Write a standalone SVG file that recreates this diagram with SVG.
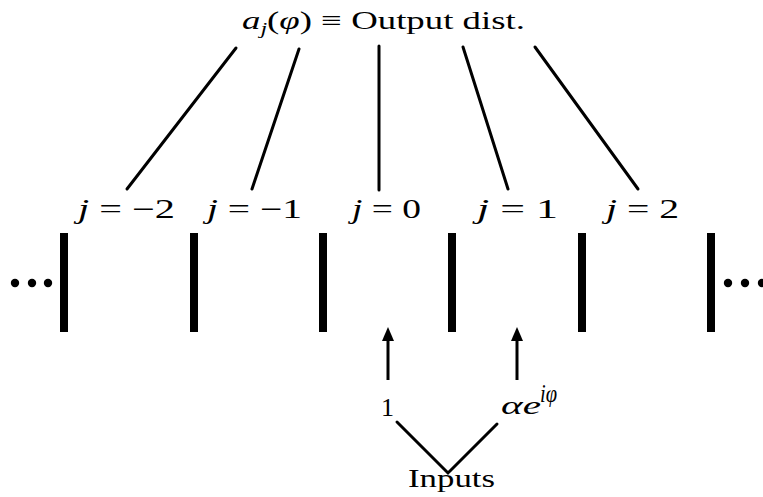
<svg xmlns="http://www.w3.org/2000/svg" width="763" height="497" viewBox="0 0 763 497">
<style>
text{font-family:"Liberation Serif","Times New Roman",serif;font-size:26px;fill:#000}
.it{font-style:italic}
.lab{font-size:27px}
.bar{fill:#000}
.dot{fill:#000}
.ln{stroke:#000;stroke-width:3;fill:none;stroke-linecap:round}
.ar{stroke:#000;stroke-width:3;fill:none}
</style>
<defs>
<marker id="ah" viewBox="0 0 14 12" refX="9" refY="6" markerWidth="14" markerHeight="12" orient="auto" markerUnits="userSpaceOnUse">
<path d="M0,0 L14,6 L0,12 Z" fill="#000"/>
</marker>
</defs>
<rect width="763" height="497" fill="#fff"/>
<g id="connectors">
<line class="ln" x1="236" y1="48" x2="127" y2="189"/>
<line class="ln" x1="299" y1="49" x2="252" y2="189"/>
<line class="ln" x1="379" y1="46" x2="379" y2="190"/>
<line class="ln" x1="463" y1="47" x2="508" y2="189"/>
<line class="ln" x1="535" y1="47" x2="638" y2="189"/>
<line class="ar" x1="388" y1="380" x2="388" y2="332" marker-end="url(#ah)"/>
<line class="ar" x1="517" y1="380" x2="517" y2="332" marker-end="url(#ah)"/>
<polyline class="ln" points="397,422 448,473 497,424"/>
</g>
<g id="title">
<text x="242" y="29" font-size="24" textLength="283" lengthAdjust="spacingAndGlyphs"><tspan class="it">a</tspan><tspan class="it" font-size="17" dy="5">j</tspan><tspan dy="-5">(</tspan><tspan class="it">φ</tspan>) ≡ Output dist.</text>
</g>
<g id="labels">
<text class="lab" x="78" y="218" textLength="97" lengthAdjust="spacingAndGlyphs"><tspan class="it">j</tspan> = −2</text>
<text class="lab" x="207" y="218" textLength="95" lengthAdjust="spacingAndGlyphs"><tspan class="it">j</tspan> = −1</text>
<text class="lab" x="352" y="218" textLength="69" lengthAdjust="spacingAndGlyphs"><tspan class="it">j</tspan> = 0</text>
<text class="lab" x="477" y="218" textLength="81" lengthAdjust="spacingAndGlyphs"><tspan class="it">j</tspan> = 1</text>
<text class="lab" x="606" y="218" textLength="73" lengthAdjust="spacingAndGlyphs"><tspan class="it">j</tspan> = 2</text>
</g>
<g id="barriers">
<rect class="bar" x="60" y="233" width="8" height="99"/>
<rect class="bar" x="190" y="233" width="8" height="99"/>
<rect class="bar" x="319" y="233" width="8" height="99"/>
<rect class="bar" x="448" y="233" width="8" height="99"/>
<rect class="bar" x="578" y="233" width="8" height="99"/>
<rect class="bar" x="707" y="233" width="8" height="99"/>
</g>
<g id="dots-left">
<circle class="dot" cx="15" cy="283" r="4.2"/>
<circle class="dot" cx="32" cy="283" r="4.2"/>
<circle class="dot" cx="48" cy="283" r="4.2"/>
</g>
<g id="dots-right">
<circle class="dot" cx="728" cy="283" r="4.2"/>
<circle class="dot" cx="745" cy="283" r="4.2"/>
<circle class="dot" cx="762" cy="283" r="4.2"/>
</g>
<g id="input-1">
<text x="381" y="416" textLength="13" lengthAdjust="spacingAndGlyphs">1</text>
</g>
<g id="input-2">
<text x="501" y="414" textLength="40" lengthAdjust="spacingAndGlyphs" class="it">αe</text>
<text x="540" y="402" font-size="18" textLength="17" lengthAdjust="spacingAndGlyphs" class="it">iφ</text>
</g>
<g id="inputs">
<text x="408" y="487" textLength="87" lengthAdjust="spacingAndGlyphs">Inputs</text>
</g>
</svg>
